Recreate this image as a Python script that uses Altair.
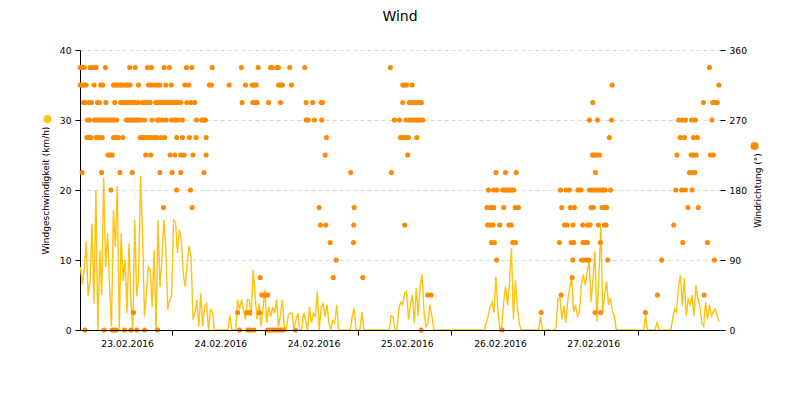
import altair as alt
import pandas as pd

chart_title = "Wind"
speed_title = "Windgeschwindigkeit (km/h)"
dir_title = "Windrichtung (°)"
day_ticks = [24, 48, 72, 96, 120, 144]
day_labels = ["23.02.2016", "24.02.2016", "24.02.2016", "25.02.2016", "26.02.2016", "27.02.2016"]
speed_ticks = [0, 10, 20, 30, 40]
dir_ticks = [0, 90, 180, 270, 360]

# wind speed (km/h), one value every half hour, starting at hour 0.5
speed_step_h = 0.5
speed = [
    9, 6.5, 8.6, 12.6, 4.8, 7, 15.2, 3.8, 20, 0,
    11.4, 5, 21.8, 9, 13.8, 6.2, 0.5, 17.1, 11.9, 20.6,
    0, 13.8, 7, 10, 2.4, 12.4, 4.3, 0, 15.7, 4.8,
    7.6, 22, 13.8, 1.9, 5.2, 9, 8.6, 3.3, 11.4, 0,
    15.7, 6.2, 10, 15.7, 11.9, 2.9, 4.3, 4.8,
    15.7, 15.5, 11, 14.3, 12.9, 8, 6.2, 9.5, 12, 10.5, 1.5, 2.4,
    4.3, 0.5, 5.2, 0.5, 3.3, 3.8, 0, 2.9, 2.6, 0,
    0, 0, 0, 0, 0, 0, 0, 2.1, 0, 0,
    0, 4.3, 3, 4.3, 2.9, 1.5, 4.3, 4.3, 2, 8.6,
    4.8, 1.5, 3.8, 0.5, 2.9, 5.7, 1, 3.3, 1.9, 3.3,
    2.4, 4.3, 0.5, 2, 4.3, 0.5, 0, 2, 2.4, 2.4,
    0, 1.4, 2.4, 0, 0, 2.4, 1.4, 0, 3.3, 1,
    2.4, 1.9, 5.5, 0, 3.3, 3.8, 1.9, 3.6, 1, 0,
    1.4, 1, 3.6, 0, 0, 0, 0, 0, 0, 0,
    1.9, 3.1, 0, 0, 0, 2.6, 0, 0, 0, 0,
    0, 0, 0, 0, 0, 0, 0, 0, 0, 0,
    2, 1.9, 0, 0, 3, 4, 3.6, 5.2, 5.5, 1.5,
    3.6, 5, 1, 6, 2, 6.4, 7.9, 2.5, 0.5, 1,
    3.6, 2, 0, 0, 0, 0, 0, 0, 0, 0,
    0, 0, 0, 0, 0, 0, 0, 0, 0, 0,
    0, 0, 0, 0, 0, 0, 0, 0, 0, 1,
    2, 3.3, 4, 2.5, 7.6, 3, 0, 0.5, 4, 6.2,
    3.5, 6.9, 11.7, 1.5, 7.1, 3.5, 1, 0, 0, 0,
    0, 0, 0, 0, 0, 0, 0, 1.9, 0, 0,
    0, 0, 0, 0, 0, 0.5, 4.5, 4.5, 1.5, 3.5,
    1, 4.3, 6, 7.4, 2.6, 3.6, 2, 2.6, 6.4, 7.9,
    6.4, 8.3, 9.8, 4, 7.4, 11.2, 1.2, 7.4, 14.8, 2.6,
    5, 6.9, 3.6, 4.5, 2.6, 2.1, 0, 0, 0, 0,
    0, 0, 0, 0, 0, 0, 0, 0, 0, 0,
    0, 2.1, 0, 0, 0, 0, 0, 1.2, 0, 0,
    0, 0, 0, 0, 0, 1.5, 3, 2.5, 6, 7.9,
    3.5, 7.4, 2, 4.5, 3.5, 5, 2, 6.4, 4.5, 3.6,
    1, 0.5, 4, 1.5, 3.6, 2, 2.6, 3, 2, 1.2,
]

# wind direction: hours at which each direction (degrees) was recorded
dir_337_5 = [0.44, 0.95, 1.47, 3.01, 3.53, 4.04, 4.56, 6.95, 13.21, 14.6, 17.77, 18.8,
             22.07, 23.43, 27.81, 29.17, 34.43, 41.97, 46.27, 49.44, 49.88, 51.11, 51.5,
             54.41, 58.27, 80.34, 162.48]
dir_315 = [0.44, 0.95, 1.47, 1.98, 4.04, 5.74, 6.26, 9.01, 9.53, 10.04, 10.56, 11.07,
           11.59, 12.28, 12.75, 13.31, 15.45, 18.03, 18.8, 19.57, 20.34, 20.94, 22.48,
           23.87, 27.37, 28.4, 33.73, 34.25, 38.81, 43.0, 44.73, 45.24, 45.76, 51.5,
           52.02, 52.53, 54.85, 83.51, 84.02, 84.54, 85.93, 137.43, 164.93]
dir_292_5 = [1.29, 1.8, 2.83, 3.35, 4.89, 5.41, 7.08, 9.35, 10.89, 11.46, 11.97, 12.49,
             13.0, 13.52, 14.03, 14.55, 15.37, 16.48, 17.12, 17.77, 18.46, 19.9, 20.47,
             21.12, 21.76, 22.4, 23.05, 23.69, 24.33, 24.98, 25.62, 26.34, 27.89, 28.92,
             29.95, 42.15, 44.88, 45.4, 46.02, 48.93, 52.02, 58.63, 60.33, 62.5, 62.83,
             83.51, 85.23, 86.0, 86.78, 87.55, 88.32, 132.43, 160.94, 163.33, 163.95, 164.54]
dir_270 = [2.32, 2.83, 4.12, 4.64, 5.15, 5.67, 6.18, 6.7, 7.21, 7.73, 8.24, 8.76, 9.27,
           9.86, 12.36, 12.88, 13.39, 13.91, 14.42, 14.94, 15.45, 16.04, 17.0, 18.98,
           20.34, 20.86, 21.63, 22.58, 23.95, 24.64, 25.16, 25.75, 26.78, 30.39, 31.75,
           32.19, 32.7, 58.63, 59.15, 60.77, 62.65, 81.37, 82.66, 84.38, 85.23, 86.0,
           86.78, 87.29, 87.81, 88.66, 131.58, 133.64, 137.25, 154.58, 155.53, 156.3,
           157.85, 158.88, 163.13]
dir_247_5 = [2.19, 2.7, 3.22, 4.56, 5.23, 6.1, 9.01, 9.71, 10.22, 11.41, 15.89, 16.4,
             16.92, 17.43, 18.1, 18.8, 19.65, 20.09, 21.19, 22.22, 25.31, 26.78, 28.58,
             30.31, 32.88, 63.86, 82.92, 83.43, 84.2, 84.98, 87.11, 136.73, 154.94,
             156.05, 158.36, 159.39]
dir_225 = [7.6, 8.11, 8.68, 17.33, 18.62, 23.56, 24.8, 26.34, 27.22, 29.48, 32.88, 63.53,
           84.8, 132.36, 132.87, 133.39, 134.16, 154.11, 157.77, 158.36, 159.06, 162.74,
           163.51]
dir_202_5 = [0.95, 5.97, 10.69, 13.85, 20.99, 24.13, 26.34, 32.32, 70.09, 80.6, 107.51,
             109.95, 112.73, 133.13, 157.33, 158.11, 158.75]
dir_180 = [8.37, 25.29, 28.84, 105.58, 106.94, 107.76, 109.26, 109.88, 110.39, 110.91,
           111.42, 112.09, 124.12, 125.58, 126.43, 128.57, 129.45, 131.58, 132.28, 132.95,
           133.64, 134.34, 135.01, 135.63, 136.99, 153.81, 155.35, 156.3, 158.03]
dir_157_5 = [21.89, 29.28, 61.98, 70.99, 105.19, 106.09, 106.94, 109.51, 112.45, 113.3,
             124.45, 126.69, 127.72, 132.02, 132.61, 134.85, 135.52, 136.04, 156.95, 159.6]
dir_135 = [62.32, 63.68, 70.89, 84.02, 105.39, 106.09, 106.79, 108.48, 110.85, 111.45,
           125.15, 125.84, 127.33, 129.86, 131.14, 131.76, 133.9, 135.45, 135.88, 153.29]
dir_112_5 = [64.81, 70.81, 106.35, 107.12, 111.83, 112.53, 123.86, 126.87, 127.54, 129.91,
             130.55, 131.07, 134.42, 155.61, 161.97]
dir_90 = [66.36, 107.69, 127.28, 129.6, 130.17, 130.81, 131.45, 136.29, 150.17, 163.77]
dir_67_5 = [46.81, 65.61, 73.21, 127.15]
dir_45 = [47.2, 47.72, 48.23, 48.75, 89.95, 90.82, 124.3, 149.1, 161.12]
dir_22_5 = [14.16, 40.99, 43.34, 44.11, 46.61, 119.15, 133.0, 134.47, 146.0]
dir_0 = [1.67, 6.64, 8.68, 9.19, 9.71, 11.9, 13.52, 15.01, 17.05, 20.34, 41.46, 43.6,
         44.16, 45.22, 48.75, 49.36, 50.03, 50.73, 51.42, 52.09, 52.71, 55.88, 88.25,
         109.1]

dir_levels = [
    (337.5, dir_337_5), (315, dir_315), (292.5, dir_292_5), (270, dir_270),
    (247.5, dir_247_5), (225, dir_225), (202.5, dir_202_5), (180, dir_180),
    (157.5, dir_157_5), (135, dir_135), (112.5, dir_112_5), (90, dir_90),
    (67.5, dir_67_5), (45, dir_45), (22.5, dir_22_5), (0, dir_0),
]

speed_df = pd.DataFrame({
    "t": [(i + 1) * speed_step_h for i in range(len(speed))],
    "speed": speed,
})
dir_rows = []
for deg, hours in dir_levels:
    for h in hours:
        dir_rows.append({"t": h, "dir": deg})
dir_df = pd.DataFrame(dir_rows)

FONT = "DejaVu Sans"
YELLOW = "#FFC20E"
ORANGE = "#FF8A00"

label_js = "[" + ",".join("'%s'" % s for s in day_labels) + "]"

x_scale = alt.Scale(domain=[0.4, 165.2], nice=False, zero=False)
x_axis = alt.Axis(
    values=day_ticks,
    labelExpr=label_js + "[round(datum.value / 24) - 1]",
    labelOffset=-44.5,
    labelFlush=False,
    labelOverlap=False,
    grid=False,
    title=None,
    domainColor="#000000",
    tickColor="#000000",
    tickSize=5,
    labelPadding=4,
    labelFont=FONT,
    labelFontSize=9.2,
    labelColor="#000000",
    zindex=1,
)

speed_line = alt.Chart(speed_df).mark_line(
    color=YELLOW, strokeWidth=1.4, interpolate="linear"
).encode(
    x=alt.X("t:Q", scale=x_scale, axis=x_axis),
    y=alt.Y(
        "speed:Q",
        scale=alt.Scale(domain=[0, 40], nice=False),
        axis=alt.Axis(
            values=speed_ticks,
            title=speed_title,
            titleFont=FONT,
            titleFontSize=9,
            titleFontWeight="normal",
            titleColor="#000000",
            titlePadding=9,
            grid=True,
            gridDash=[4, 3],
            gridColor="#d9d9d9",
            domainColor="#000000",
            tickColor="#000000",
            tickSize=5,
            labelFont=FONT,
            labelFontSize=9.2,
            labelColor="#000000",
            labelPadding=4,
        ),
    ),
)

dir_points = alt.Chart(dir_df).mark_circle(
    color=ORANGE, size=26, opacity=1
).encode(
    x=alt.X("t:Q", scale=x_scale, axis=x_axis),
    y=alt.Y(
        "dir:Q",
        scale=alt.Scale(domain=[0, 360], nice=False),
        axis=alt.Axis(
            orient="right",
            values=dir_ticks,
            title=dir_title,
            titleAngle=270,
            titleFont=FONT,
            titleFontSize=9,
            titleFontWeight="normal",
            titleColor="#000000",
            titlePadding=16,
            grid=False,
            domain=False,
            tickColor="#000000",
            tickSize=5,
            labelFont=FONT,
            labelFontSize=9.2,
            labelColor="#000000",
            labelPadding=4,
        ),
    ),
)

legend_df = pd.DataFrame({"series": ["speed"]})
speed_marker = alt.Chart(legend_df).mark_circle(
    color=YELLOW, size=64, opacity=1
).encode(x=alt.value(-32.5), y=alt.value(69))
dir_marker = alt.Chart(legend_df).mark_circle(
    color=ORANGE, size=64, opacity=1
).encode(x=alt.value(674.5), y=alt.value(96))

chart = alt.layer(speed_line, dir_points, speed_marker, dir_marker).resolve_scale(
    y="independent"
).properties(
    width=640,
    height=280,
    autosize=alt.AutoSizeParams(type="none"),
    padding={"left": 72, "top": 42, "right": 72, "bottom": 50},
    title=alt.TitleParams(
        chart_title, font=FONT, fontSize=14, fontWeight="normal",
        color="#000000", anchor="middle", offset=22,
    ),
).configure_view(stroke=None)

chart.save("out.html", embed_options={"renderer": "svg", "actions": False})
